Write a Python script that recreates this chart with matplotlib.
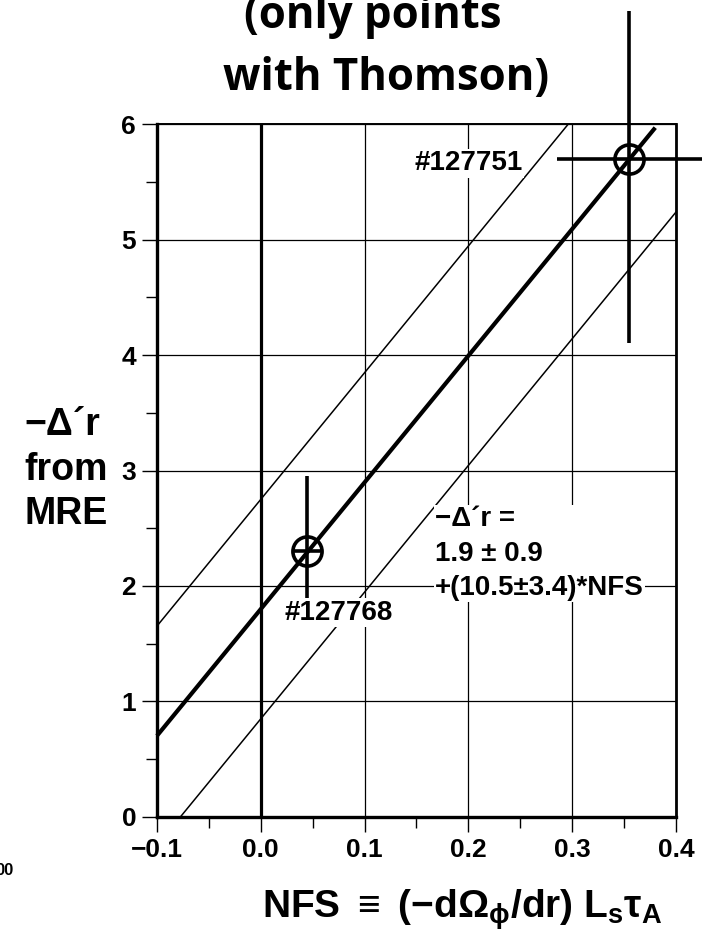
import numpy as np
import matplotlib
matplotlib.use('Agg')
import matplotlib.pyplot as plt
from matplotlib.ticker import MultipleLocator

# data
shots = ['#127768', '#127751']
nfs = [0.045, 0.355]
dr = [2.30, 5.70]
dr_lo = [1.65, 4.10]
dr_hi = [2.95, 6.98]
nfs_err = [0.013, 0.070]

fit_x = [-0.10, 0.38]
band_x = [[-0.10, 0.296], [-0.078, 0.40]]
fit_a = 1.80    # intercept of drawn line
fit_b = 10.97   # slope of drawn line
band = 0.95

xticks = [-0.1, 0.0, 0.1, 0.2, 0.3, 0.4]
xticklabels = ['\u22120.1', '0.0', '0.1', '0.2', '0.3', '0.4']

matplotlib.rcParams['font.family'] = ['Liberation Sans', 'DejaVu Sans']
matplotlib.rcParams['font.weight'] = 'bold'
matplotlib.rcParams['mathtext.fontset'] = 'custom'
matplotlib.rcParams['mathtext.rm'] = 'Liberation Sans:bold'
matplotlib.rcParams['mathtext.it'] = 'Liberation Sans:bold'
matplotlib.rcParams['mathtext.bf'] = 'Liberation Sans:bold'

fig = plt.figure(figsize=(7.03, 9.34), dpi=100)
ax = fig.add_axes([0.2233, 0.1253, 0.7383, 0.7419])

ax.set_xlim(-0.1, 0.4)
ax.set_ylim(0, 6)
ax.set_xticks(xticks)
ax.set_xticklabels(xticklabels)
ax.xaxis.set_minor_locator(MultipleLocator(0.05))
ax.yaxis.set_major_locator(MultipleLocator(1))
ax.yaxis.set_minor_locator(MultipleLocator(0.5))
ax.tick_params(which='major', direction='out', length=11, width=1.0, labelsize=19, pad=4)
ax.tick_params(which='minor', direction='out', length=8, width=1.0)
for lab in ax.get_xticklabels() + ax.get_yticklabels():
    lab.set_fontweight('bold')

ax.grid(True, which='major', color='black', lw=0.9)
ax.set_axisbelow(True)
for s, w in zip(['left', 'bottom', 'top', 'right'], [2.4, 2.4, 1.4, 2.0]):
    ax.spines[s].set_linewidth(w)

# vertical line at NFS = 0
ax.plot([0, 0], [0, 6], color='black', lw=2.3, zorder=3)

# fit line and band
xf = np.array(fit_x)
ax.plot(xf, fit_a + fit_b * xf, color='black', lw=3.0, zorder=4, clip_on=False,
        solid_capstyle='butt')
for sgn, bx in zip([1, -1], band_x):
    bx = np.array(bx)
    ax.plot(bx, fit_a + sgn * band + fit_b * bx, color='black', lw=1.1, zorder=4)

# data points
for x, y, lo, hi, xe in zip(nfs, dr, dr_lo, dr_hi, nfs_err):
    ax.plot([x, x], [lo, hi], color='black', lw=2.6, zorder=5, clip_on=False,
            solid_capstyle='butt')
    ax.plot([x - xe, x + xe], [y, y], color='black', lw=2.6, zorder=5, clip_on=False,
            solid_capstyle='butt')
    ax.plot([x], [y], marker='o', ms=21, mfc='none', mec='black', mew=2.6,
            zorder=6, clip_on=False)

box = dict(facecolor='white', edgecolor='none', pad=1)
ax.text(0.252, 5.66, shots[1], ha='right', va='center', fontsize=20,
        fontweight='bold', bbox=box, zorder=7)
ax.text(0.075, 1.77, shots[0], ha='center', va='center', fontsize=20,
        fontweight='bold', bbox=box, zorder=7)
ax.text(0.168, 2.28, '\u2212\u0394\u00b4r =\n1.9 \u00b1 0.9\n+(10.5\u00b13.4)*NFS',
        ha='left', va='center', fontsize=20, fontweight='bold', linespacing=1.42,
        bbox=box, zorder=7)

fig.text(0.035, 0.497, '\u2212\u0394\u00b4r\nfrom\nMRE', ha='left', va='center',
         fontsize=27, fontweight='bold', linespacing=1.3)
fig.text(0.657, 0.017,
         'NFS $\\equiv$ (\u2212d$\\Omega_\\phi$/dr) L$_{\\mathrm{s}}\\tau_{\\mathrm{A}}$',
         ha='center', va='baseline', fontsize=28, fontweight='bold')
fig.text(0.549, 0.904, 'with Thomson)', ha='center', va='baseline', fontsize=31.5,
         fontweight='bold', family=['Open Sans', 'DejaVu Sans'])
fig.text(0.530, 0.970, '(only points', ha='center', va='baseline', fontsize=31.5,
         fontweight='bold', family=['Open Sans', 'DejaVu Sans'])
fig.text(-0.006, 0.068, '00', ha='left', va='center', fontsize=12, fontweight='bold')

fig.savefig('out.png', dpi=100)
